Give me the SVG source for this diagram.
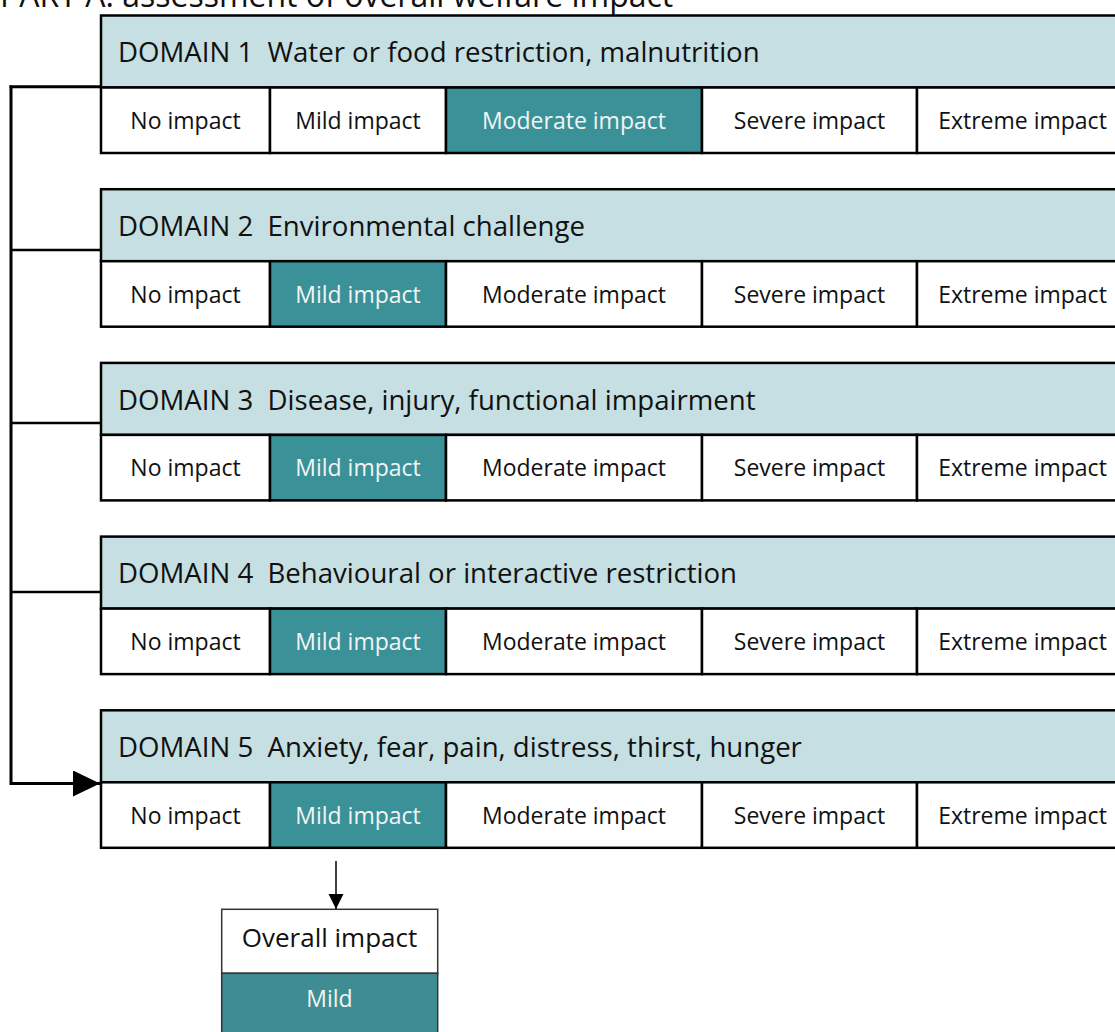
<svg xmlns="http://www.w3.org/2000/svg" width="1115" height="1032" viewBox="0 0 1115 1032">
<defs>
<style>
.hdr{fill:#c5dfe2;stroke:#000;stroke-width:2.5}
.cell{fill:#fff;stroke:#000;stroke-width:2.5}
.on{fill:#3a9298;stroke:#000;stroke-width:2.5}
.ht{font-family:"Open Sans","DejaVu Sans",sans-serif;font-size:27.6px;fill:#111}
.ct{font-family:"Open Sans","DejaVu Sans",sans-serif;font-size:23px;fill:#111;text-anchor:middle}
.ct.w{fill:#f4f4f4}
.title{font-family:"Open Sans","DejaVu Sans",sans-serif;font-size:32px;fill:#111}
.conn{fill:none;stroke:#000;stroke-width:3}
</style>
<marker id="bigArrow" markerWidth="28" markerHeight="26" refX="27" refY="13" orient="auto" markerUnits="userSpaceOnUse">
<path d="M0,0 L27,13 L0,26 Z" fill="#000"/>
</marker>
<marker id="smallArrow" markerWidth="16" markerHeight="16" refX="15" refY="7.5" orient="auto" markerUnits="userSpaceOnUse">
<path d="M0,0 L15,7.5 L0,15 Z" fill="#000"/>
</marker>
</defs>
<rect width="1115" height="1032" fill="#fff"/>
<text class="title" x="0" y="6.5">PART A: assessment of overall welfare impact</text>

<g id="domain1" transform="translate(0,15.5)">
<rect class="hdr" x="101" y="0" width="1030" height="72"/>
<text class="ht" x="118" y="46.7" xml:space="preserve">DOMAIN 1  Water or food restriction, malnutrition</text>
<rect class="cell" x="101" y="72" width="169" height="65.5"/>
<rect class="cell" x="270" y="72" width="176" height="65.5"/>
<rect class="on" x="446" y="72" width="256" height="65.5"/>
<rect class="cell" x="702" y="72" width="215" height="65.5"/>
<rect class="cell" x="917" y="72" width="214" height="65.5"/>
<text class="ct" x="185.5" y="113.5">No impact</text>
<text class="ct" x="358" y="113.5">Mild impact</text>
<text class="ct w" x="574" y="113.5">Moderate impact</text>
<text class="ct" x="809.5" y="113.5">Severe impact</text>
<text class="ct" x="1022.5" y="113.5">Extreme impact</text>
</g>

<g id="domain2" transform="translate(0,189.2)">
<rect class="hdr" x="101" y="0" width="1030" height="72"/>
<text class="ht" x="118" y="46.7" xml:space="preserve">DOMAIN 2  Environmental challenge</text>
<rect class="cell" x="101" y="72" width="169" height="65.5"/>
<rect class="on" x="270" y="72" width="176" height="65.5"/>
<rect class="cell" x="446" y="72" width="256" height="65.5"/>
<rect class="cell" x="702" y="72" width="215" height="65.5"/>
<rect class="cell" x="917" y="72" width="214" height="65.5"/>
<text class="ct" x="185.5" y="113.5">No impact</text>
<text class="ct w" x="358" y="113.5">Mild impact</text>
<text class="ct" x="574" y="113.5">Moderate impact</text>
<text class="ct" x="809.5" y="113.5">Severe impact</text>
<text class="ct" x="1022.5" y="113.5">Extreme impact</text>
</g>

<g id="domain3" transform="translate(0,362.9)">
<rect class="hdr" x="101" y="0" width="1030" height="72"/>
<text class="ht" x="118" y="46.7" xml:space="preserve">DOMAIN 3  Disease, injury, functional impairment</text>
<rect class="cell" x="101" y="72" width="169" height="65.5"/>
<rect class="on" x="270" y="72" width="176" height="65.5"/>
<rect class="cell" x="446" y="72" width="256" height="65.5"/>
<rect class="cell" x="702" y="72" width="215" height="65.5"/>
<rect class="cell" x="917" y="72" width="214" height="65.5"/>
<text class="ct" x="185.5" y="113.5">No impact</text>
<text class="ct w" x="358" y="113.5">Mild impact</text>
<text class="ct" x="574" y="113.5">Moderate impact</text>
<text class="ct" x="809.5" y="113.5">Severe impact</text>
<text class="ct" x="1022.5" y="113.5">Extreme impact</text>
</g>

<g id="domain4" transform="translate(0,536.6)">
<rect class="hdr" x="101" y="0" width="1030" height="72"/>
<text class="ht" x="118" y="46.7" xml:space="preserve">DOMAIN 4  Behavioural or interactive restriction</text>
<rect class="cell" x="101" y="72" width="169" height="65.5"/>
<rect class="on" x="270" y="72" width="176" height="65.5"/>
<rect class="cell" x="446" y="72" width="256" height="65.5"/>
<rect class="cell" x="702" y="72" width="215" height="65.5"/>
<rect class="cell" x="917" y="72" width="214" height="65.5"/>
<text class="ct" x="185.5" y="113.5">No impact</text>
<text class="ct w" x="358" y="113.5">Mild impact</text>
<text class="ct" x="574" y="113.5">Moderate impact</text>
<text class="ct" x="809.5" y="113.5">Severe impact</text>
<text class="ct" x="1022.5" y="113.5">Extreme impact</text>
</g>

<g id="domain5" transform="translate(0,710.3)">
<rect class="hdr" x="101" y="0" width="1030" height="72"/>
<text class="ht" x="118" y="46.7" xml:space="preserve">DOMAIN 5  Anxiety, fear, pain, distress, thirst, hunger</text>
<rect class="cell" x="101" y="72" width="169" height="65.5"/>
<rect class="on" x="270" y="72" width="176" height="65.5"/>
<rect class="cell" x="446" y="72" width="256" height="65.5"/>
<rect class="cell" x="702" y="72" width="215" height="65.5"/>
<rect class="cell" x="917" y="72" width="214" height="65.5"/>
<text class="ct" x="185.5" y="113.5">No impact</text>
<text class="ct w" x="358" y="113.5">Mild impact</text>
<text class="ct" x="574" y="113.5">Moderate impact</text>
<text class="ct" x="809.5" y="113.5">Severe impact</text>
<text class="ct" x="1022.5" y="113.5">Extreme impact</text>
</g>

<g id="overall">
<rect x="221.7" y="909.3" width="216" height="64" fill="#fff" stroke="#333" stroke-width="1.5"/>
<rect x="221.7" y="973.3" width="216" height="70" fill="#3f8d92" stroke="#333" stroke-width="1.5"/>
<text class="ct" x="329.5" y="947.3" style="font-size:26px">Overall impact</text>
<text class="ct w" x="329.5" y="1007.3">Mild</text>
</g>

<g id="connectors">
<path class="conn" d="M11,85.5 V783.5 H100" marker-end="url(#bigArrow)"/>
<path class="conn" d="M9.5,86.8 H100"/>
<path class="conn" d="M11,250 H101" style="stroke-width:2.5"/>
<path class="conn" d="M11,423 H101" style="stroke-width:2.5"/>
<path class="conn" d="M11,592 H101" style="stroke-width:2.5"/>
<path d="M336,861 V909" fill="none" stroke="#000" stroke-width="1.5" marker-end="url(#smallArrow)"/>
</g>
</svg>
